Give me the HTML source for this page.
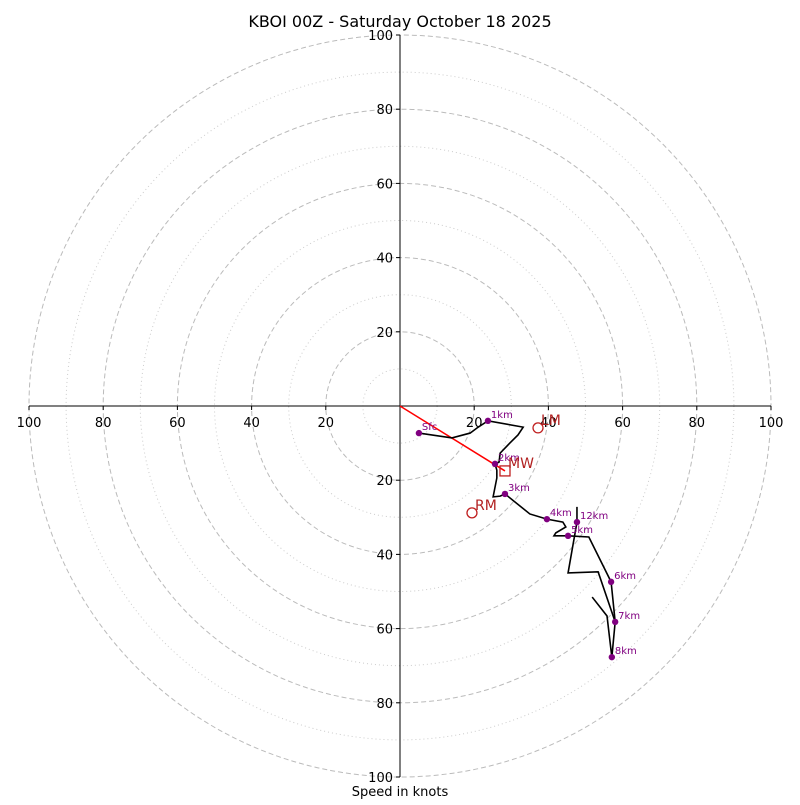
<!DOCTYPE html>
<html><head><meta charset="utf-8"><style>
body{margin:0;background:#fff}
svg text{font-family:"DejaVu Sans","Liberation Sans",sans-serif}
</style></head><body>
<svg id="chart" width="800" height="800" viewBox="0 0 800 800">
<rect width="800" height="800" fill="#fff"/>
<text x="400" y="27" text-anchor="middle" font-size="16">KBOI 00Z - Saturday October 18 2025</text>
<g id="rings"></g><g id="axes"></g><g id="plot"></g>
<text x="400" y="796" text-anchor="middle" font-size="13">Speed in knots</text>
</svg>
<script>
const ringSpeeds=[10,20,30,40,50,60,70,80,90,100];
const tickLabels=[20,40,60,80,100];
const pathU=[5.1,14.0,18.9,20.8,23.7,33.2,31.8,29.6,27.0,26.7,25.6,26.1,26.1,25.1,27.0,28.3,35.0,39.6,43.9,44.7,42.0,41.5,45.3,50.9,56.9,58.0,57.1,55.8,51.8];
const pathV=[-7.3,-8.6,-7.3,-5.9,-4.0,-5.7,-7.8,-10.0,-12.7,-15.1,-15.6,-17.3,-19.4,-24.5,-24.3,-23.7,-29.1,-30.5,-31.3,-32.6,-34.2,-35.0,-35.0,-35.3,-47.4,-58.2,-67.7,-56.6,-51.5];
const path2U=[58.0,53.4,45.3,47.7,47.7];
const path2V=[-58.2,-44.7,-45.0,-31.3,-27.2];
const kmLabels=["Sfc","1km","2km","3km","4km","5km","6km","7km","8km","12km"];
const kmU=[5.1,23.7,25.6,28.3,39.6,45.3,56.9,58.0,57.1,47.7];
const kmV=[-7.3,-4.0,-15.6,-23.7,-30.5,-35.0,-47.4,-58.2,-67.7,-31.3];
const motionLabels=["LM","MW","RM"];
const motionU=[37.2,28.3,19.4];
const motionV=[-5.9,-17.5,-28.8];
const NS="http://www.w3.org/2000/svg";
const cx=400,cy=406,scale=3.71;
const X=u=>cx+u*scale, Y=v=>cy-v*scale;
function mk(tag,attrs,parent,txt){const e=document.createElementNS(NS,tag);for(const k in attrs)e.setAttribute(k,attrs[k]);if(txt!==undefined)e.textContent=txt;parent.appendChild(e);return e;}
const rings=document.getElementById('rings'),axes=document.getElementById('axes'),plot=document.getElementById('plot');
ringSpeeds.forEach(s=>{const major=s%20===0;
 const c=mk('circle',{cx:cx,cy:cy,r:s*scale,fill:'none',stroke:major?'#bbb':'#ccc','stroke-width':major?1:1,'stroke-dasharray':major?'5,3':'1,3'},rings);
 
 
});
let a=mk('line',{x1:X(-100),y1:cy,x2:X(100),y2:cy,stroke:'#000','stroke-width':1},axes);


a=mk('line',{x1:cx,y1:Y(100),x2:cx,y2:Y(-100),stroke:'#000','stroke-width':1},axes);


tickLabels.forEach(t=>{[-t,t].forEach(u=>{
 mk('line',{x1:X(u),y1:cy,x2:X(u),y2:cy+4,stroke:'#000'},axes);
 const e=mk('text',{x:X(u),y:cy+21,'text-anchor':'middle','font-size':13},axes,String(t));
 
 
 mk('line',{x1:cx-4,y1:Y(u),x2:cx,y2:Y(u),stroke:'#000'},axes);
 const f=mk('text',{x:cx-7,y:Y(u)+5,'text-anchor':'end','font-size':13},axes,String(t));
 
 
});});
// mean wind line
let l=mk('line',{x1:X(0),y1:Y(0),x2:X(motionU[1]),y2:Y(motionV[1]),stroke:'red','stroke-width':1.5},plot);


let p=mk('polyline',{points:pathU.map((u,i)=>X(u)+','+Y(pathV[i])).join(' '),fill:'none',stroke:'#000','stroke-width':1.6},plot);


p=mk('polyline',{points:path2U.map((u,i)=>X(u)+','+Y(path2V[i])).join(' '),fill:'none',stroke:'#000','stroke-width':1.6},plot);


kmLabels.forEach((lab,i)=>{
 const c=mk('circle',{cx:X(kmU[i]),cy:Y(kmV[i]),r:3.2,fill:'purple'},plot);
 
 
 const t=mk('text',{x:X(kmU[i])+3,y:Y(kmV[i])-3,'font-size':10,fill:'purple'},plot,lab);
 
 
});
motionLabels.forEach((lab,i)=>{
 const x=X(motionU[i]),y=Y(motionV[i]);
 let m;
 if(lab==='MW') m=mk('rect',{x:x-5,y:y-5,width:10,height:10,fill:'none',stroke:'#c02020','stroke-width':1.3},plot);
 else m=mk('circle',{cx:x,cy:y,r:5,fill:'none',stroke:'#c02020','stroke-width':1.3},plot);
 
 
 const t=mk('text',{x:x+3,y:y-3,'font-size':14,fill:'#b22222'},plot,lab);
 
 
});
</script>
</body></html>
